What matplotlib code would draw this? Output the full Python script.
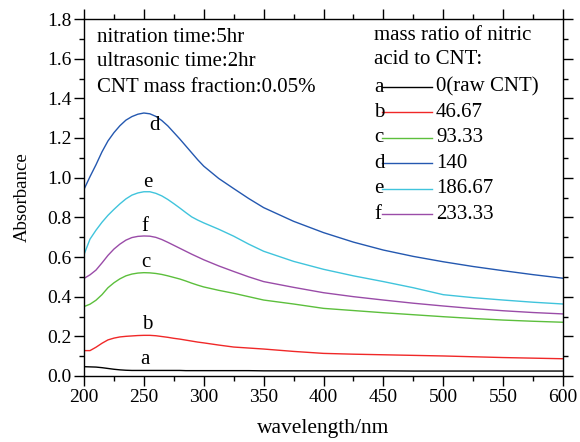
import matplotlib
matplotlib.use("Agg")
import matplotlib.pyplot as plt
from matplotlib.ticker import MultipleLocator, FormatStrFormatter
from matplotlib.lines import Line2D

plt.rcParams['font.family'] = ['Liberation Serif', 'DejaVu Serif']

wavelength = [200, 205, 210, 215, 220, 225, 230, 235, 240, 245, 250, 255, 260, 265, 270,
              275, 280, 285, 290, 295, 300, 312.5, 325, 337.5, 350, 375, 400, 425, 450,
              475, 500, 525, 550, 575, 600]
a_vals = [0.047, 0.046, 0.045, 0.042, 0.038, 0.034, 0.031, 0.029, 0.028, 0.028, 0.028, 0.028,
          0.028, 0.028, 0.028, 0.028, 0.028, 0.027, 0.027, 0.027, 0.027, 0.027, 0.027, 0.027,
          0.026, 0.026, 0.026, 0.026, 0.026, 0.025, 0.025, 0.025, 0.025, 0.025, 0.025]
b_vals = [0.128, 0.128, 0.145, 0.165, 0.182, 0.191, 0.197, 0.200, 0.202, 0.204, 0.205, 0.205,
          0.203, 0.199, 0.195, 0.190, 0.186, 0.181, 0.176, 0.171, 0.167, 0.156, 0.146, 0.141,
          0.136, 0.124, 0.114, 0.110, 0.107, 0.104, 0.101, 0.097, 0.093, 0.090, 0.087]
c_vals = [0.350, 0.362, 0.382, 0.410, 0.445, 0.470, 0.490, 0.505, 0.514, 0.519, 0.521, 0.520,
          0.517, 0.512, 0.505, 0.497, 0.489, 0.479, 0.468, 0.458, 0.449, 0.432, 0.417, 0.400,
          0.383, 0.363, 0.341, 0.330, 0.319, 0.309, 0.299, 0.290, 0.282, 0.276, 0.271]
d_vals = [0.941, 1.005, 1.065, 1.130, 1.185, 1.227, 1.262, 1.290, 1.308, 1.320, 1.326, 1.322,
          1.309, 1.288, 1.261, 1.228, 1.195, 1.160, 1.125, 1.090, 1.058, 0.996, 0.945, 0.895,
          0.849, 0.780, 0.723, 0.675, 0.635, 0.603, 0.576, 0.552, 0.531, 0.511, 0.493]
e_vals = [0.612, 0.690, 0.735, 0.775, 0.810, 0.840, 0.868, 0.893, 0.912, 0.923, 0.929, 0.929,
          0.921, 0.908, 0.890, 0.869, 0.847, 0.824, 0.802, 0.786, 0.772, 0.740, 0.705, 0.665,
          0.629, 0.578, 0.538, 0.505, 0.476, 0.445, 0.410, 0.395, 0.383, 0.372, 0.363]
f_vals = [0.492, 0.510, 0.534, 0.570, 0.608, 0.640, 0.665, 0.685, 0.698, 0.704, 0.706, 0.705,
          0.699, 0.688, 0.674, 0.659, 0.644, 0.629, 0.614, 0.600, 0.586, 0.555, 0.527, 0.500,
          0.476, 0.447, 0.420, 0.400, 0.383, 0.367, 0.353, 0.340, 0.329, 0.320, 0.313]

series_keys = ['a', 'b', 'c', 'd', 'e', 'f']
series_vals = [a_vals, b_vals, c_vals, d_vals, e_vals, f_vals]
series_labels = ['0(raw CNT)', '46.67', '93.33', '140', '186.67', '233.33']
colors = ['#000000', '#f02828', '#5cbf3c', '#2458b0', '#40c4dc', '#9a4ca8']
# positions of the curve letters (wavelength, absorbance)
letter_pos = [(251, 0.081), (253, 0.262), (252, 0.57), (259, 1.265), (253, 0.978), (251, 0.756)]

fig = plt.figure(figsize=(5.8, 4.42), dpi=100)
ax = fig.add_axes([84/580, 66/442, 479/580, 357/442])

for key, vals, col, lp in zip(series_keys, series_vals, colors, letter_pos):
    ax.plot(wavelength, vals, color=col, lw=1.0)
    ax.text(lp[0], lp[1], key, fontsize=15, ha='center', va='center')

ax.set_xlim(200, 600)
ax.set_ylim(0, 1.8)
ax.xaxis.set_major_locator(MultipleLocator(50))
ax.xaxis.set_minor_locator(MultipleLocator(25))
ax.yaxis.set_major_locator(MultipleLocator(0.2))
ax.yaxis.set_minor_locator(MultipleLocator(0.1))
ax.yaxis.set_major_formatter(FormatStrFormatter('%.1f'))
ax.tick_params(which='both', direction='out', top=True, right=True, labelsize=14)
ax.tick_params(which='major', length=7, width=1, pad=2)
ax.tick_params(which='minor', length=3.5, width=1)
for s in ax.spines.values():
    s.set_linewidth(1.0)

ax.set_xlabel('wavelength/nm', fontsize=15.5, labelpad=10)
ax.set_ylabel('Absorbance', fontsize=13.5, labelpad=12)

# info text
info = ['nitration time:5hr', 'ultrasonic time:2hr', 'CNT mass fraction:0.05%']
for i, t in enumerate(info):
    fig.text(97/580, 1 - (37 + 25*i)/442, t, fontsize=15, ha='left', va='center')

# custom legend
fig.text(374/580, 1 - 35/442, 'mass ratio of nitric', fontsize=15, ha='left', va='center')
fig.text(374/580, 1 - 60/442, 'acid to CNT:', fontsize=15, ha='left', va='center')
for i, (key, lab, col) in enumerate(zip(series_keys, series_labels, colors)):
    y = 1 - (87 + 25.4*i)/442
    fig.text(374/580, y, key, fontsize=15, ha='left', va='center')
    fig.add_artist(Line2D([382/580, 432/580], [y, y], color=col, lw=1.0,
                          transform=fig.transFigure))
    fig.text(436/580, y, lab, fontsize=15, ha='left', va='center')

fig.savefig('out.png', dpi=100)
